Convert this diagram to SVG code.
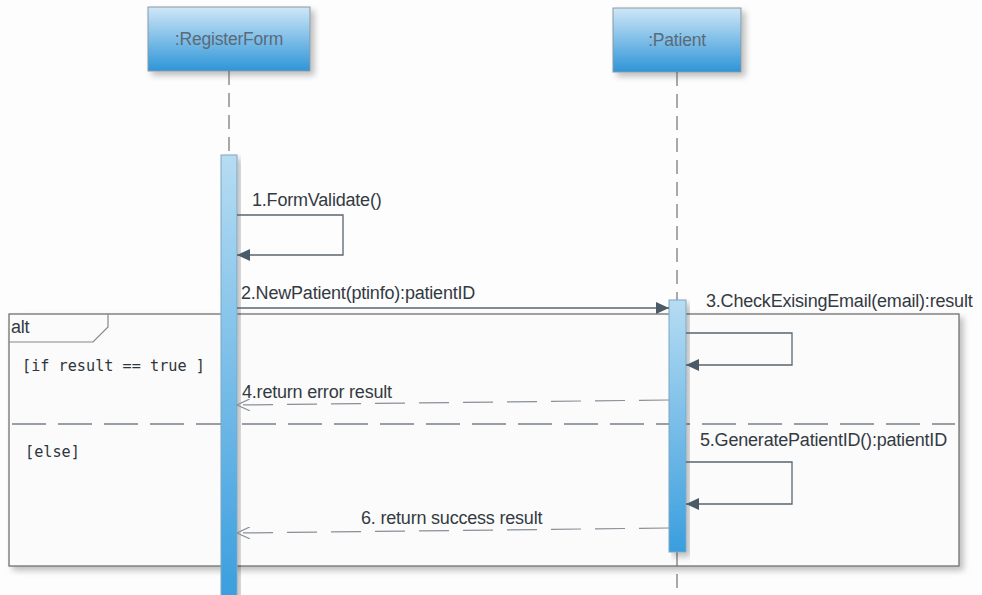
<svg xmlns="http://www.w3.org/2000/svg" width="982" height="595" viewBox="0 0 982 595">
<defs>
<linearGradient id="hdr" x1="0" y1="0" x2="0" y2="1">
<stop offset="0" stop-color="#cfe7f7"/>
<stop offset="1" stop-color="#2e95d8"/>
</linearGradient>
<linearGradient id="act" x1="0" y1="0" x2="0" y2="1">
<stop offset="0" stop-color="#b6dcf2"/>
<stop offset="1" stop-color="#3a9ede"/>
</linearGradient>
<filter id="sh" x="-10%" y="-10%" width="130%" height="130%">
<feGaussianBlur in="SourceAlpha" stdDeviation="3"/>
<feOffset dx="4" dy="4"/>
<feComponentTransfer><feFuncA type="linear" slope="0.25"/></feComponentTransfer>
<feMerge><feMergeNode/><feMergeNode in="SourceGraphic"/></feMerge>
</filter>
<marker id="fill" markerWidth="14" markerHeight="12" refX="13" refY="6" orient="auto" markerUnits="userSpaceOnUse">
<path d="M0,0 L13,6 L0,12 Z" fill="#4a5a66"/>
</marker>
<marker id="open" markerWidth="14" markerHeight="12" refX="13" refY="6" orient="auto" markerUnits="userSpaceOnUse">
<path d="M0,0 L13,6 L0,12" fill="none" stroke="#8a9098" stroke-width="1.2"/>
</marker>
</defs>
<style>
.lbl{font-family:"Liberation Sans",Arial,sans-serif;font-size:18px;fill:#333a42;letter-spacing:-0.2px}
.hdr{font-family:"Liberation Sans",Arial,sans-serif;font-size:17.5px;fill:#5b6a78;letter-spacing:-0.2px}
.mono{font-family:"DejaVu Sans Mono",monospace;font-size:15.2px;fill:#2f353b}
.life{stroke:#555;stroke-width:1;stroke-dasharray:14 8;fill:none}
.msg{stroke:#5a6670;stroke-width:1.3;fill:none}
.ret{stroke:#8a9098;stroke-width:1.2;stroke-dasharray:30 14;fill:none}
.sep{stroke:#7a8088;stroke-width:1.3;stroke-dasharray:34 12;fill:none}
.act{fill:url(#act);stroke:#7fa6c2;stroke-width:1}
</style>
<rect width="982" height="595" fill="#fdfdfd"/>

<g id="frame-alt">
<rect x="9" y="314" width="950" height="252" fill="#fbfbfb" stroke="#666" stroke-width="1.2" filter="url(#sh)"/>
<path d="M9,342 L93,342 L108,327 L108,314" fill="none" stroke="#888" stroke-width="1.2"/>
<text x="11" y="333" class="lbl" font-size="16">alt</text>
<text x="22" y="371" class="mono">[if result == true ]</text>
<text x="25" y="457" class="mono">[else]</text>
<line x1="12" y1="424" x2="955" y2="424" class="sep"/>
</g>

<g id="node-registerform">
<rect x="148" y="7" width="162" height="64" fill="url(#hdr)" stroke="#8a98a4" stroke-width="1" filter="url(#sh)"/>
<text x="229" y="45" class="hdr" text-anchor="middle">:RegisterForm</text>
<line x1="229" y1="71" x2="229" y2="155" class="life"/>
<rect x="221" y="155" width="16" height="445" class="act" filter="url(#sh)"/>
</g>

<g id="node-patient">
<rect x="613" y="8" width="128" height="64" fill="url(#hdr)" stroke="#8a98a4" stroke-width="1" filter="url(#sh)"/>
<text x="677" y="46" class="hdr" text-anchor="middle">:Patient</text>
<line x1="677" y1="72" x2="677" y2="300" class="life"/>
<line x1="677" y1="552" x2="677" y2="595" class="life"/>
<rect x="669" y="300" width="17" height="252" class="act" filter="url(#sh)"/>
</g>

<g id="connectors">
<path d="M237,215 H343 V255 H237" class="msg" marker-end="url(#fill)"/>
<text x="252" y="206" class="lbl">1.FormValidate()</text>

<line x1="237" y1="308" x2="669" y2="308" class="msg" marker-end="url(#fill)"/>
<text x="241" y="299" class="lbl">2.NewPatient(ptinfo):patientID</text>

<path d="M686,333 H792 V365 H686" class="msg" marker-end="url(#fill)"/>
<text x="706" y="307" class="lbl">3.CheckExisingEmail(email):result</text>

<line x1="669" y1="400" x2="237" y2="405" class="ret" marker-end="url(#open)"/>
<text x="242" y="398" class="lbl">4.return error result</text>

<path d="M686,462 H792 V504 H686" class="msg" marker-end="url(#fill)"/>
<text x="700" y="446" class="lbl">5.GeneratePatientID():patientID</text>

<line x1="669" y1="528" x2="237" y2="533" class="ret" marker-end="url(#open)"/>
<text x="361" y="524" class="lbl">6. return success result</text>
</g>
</svg>
